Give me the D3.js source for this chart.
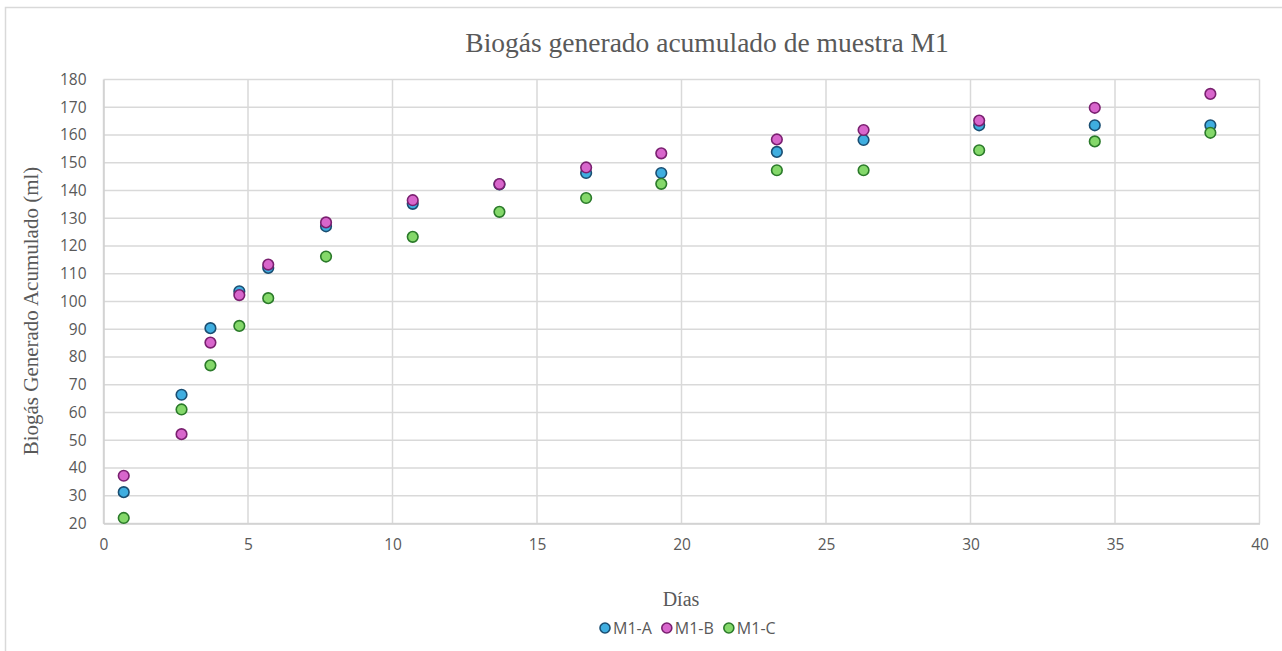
<!DOCTYPE html>
<html>
<head>
<meta charset="utf-8">
<script src="https://cdn.jsdelivr.net/npm/d3@7"></script>
<style>
  html, body { margin: 0; padding: 0; background: #ffffff; }
  svg { display: block; }
</style>
</head>
<body>
<svg id="chart" width="1282" height="651"></svg>
<script>
// Days of sampling
const dias = [0.7, 2.7, 3.7, 4.7, 5.7, 7.7, 10.7, 13.7, 16.7, 19.3, 23.3, 26.3, 30.3, 34.3, 38.3];

// Accumulated biogas (ml) for each replicate
const m1A = [31.3, 66.4, 90.4, 103.7, 112.1, 127.1, 135.2, 142.2, 146.3, 146.3, 153.9, 158.2, 163.5, 163.5, 163.5];
const m1B = [37.2, 52.2, 85.2, 102.3, 113.3, 128.5, 136.5, 142.3, 148.3, 153.4, 158.4, 161.8, 165.2, 169.8, 174.8];
const m1C = [22.0, 61.1, 77.0, 91.2, 101.2, 116.2, 123.3, 132.3, 137.3, 142.4, 147.3, 147.3, 154.5, 157.7, 160.8];

const seriesNames = ["M1-A", "M1-B", "M1-C"];
const xTicks = [0, 5, 10, 15, 20, 25, 30, 35, 40];
const yTicks = [20, 30, 40, 50, 60, 70, 80, 90, 100, 110, 120, 130, 140, 150, 160, 170, 180];

const titleText = "Biogás generado acumulado de muestra M1";
const xTitle = "Días";
const yTitle = "Biogás Generado Acumulado (ml)";

const styles = {
  "M1-A": { fill: "#3FAEE0", stroke: "#1A4E72" },
  "M1-B": { fill: "#D866CC", stroke: "#7A2070" },
  "M1-C": { fill: "#84D86A", stroke: "#2B7A2A" }
};

const series = [
  { name: seriesNames[0], values: m1A },
  { name: seriesNames[1], values: m1B },
  { name: seriesNames[2], values: m1C }
];

const svg = d3.select("#chart");
const plot = { left: 103.5, right: 1259.5, top: 79.5, bottom: 523.5 };
const sans = "'Open Sans', 'Noto Sans', sans-serif";
const serif = "'Liberation Serif', 'DejaVu Serif', serif";
const textGray = "#595959";

// Outer chart frame
svg.append("rect")
  .attr("x", 5.5).attr("y", 7.5)
  .attr("width", 1290).attr("height", 660)
  .attr("fill", "#ffffff")
  .attr("stroke", "#D9D9D9")
  .attr("stroke-width", 1.5);

const x = d3.scaleLinear().domain([0, 40]).range([plot.left, plot.right]);
const y = d3.scaleLinear().domain([20, 180]).range([plot.bottom, plot.top]);

// Gridlines
const grid = svg.append("g");
grid.selectAll("line.h").data(yTicks).join("line")
  .attr("class", "h")
  .attr("x1", plot.left).attr("x2", plot.right)
  .attr("y1", d => y(d)).attr("y2", d => y(d))
  .attr("stroke", "#D9D9D9").attr("stroke-width", 1.5);
grid.selectAll("line.v").data(xTicks).join("line")
  .attr("class", "v")
  .attr("y1", plot.top).attr("y2", plot.bottom)
  .attr("x1", d => x(d)).attr("x2", d => x(d))
  .attr("stroke", "#D9D9D9").attr("stroke-width", 1.5);

// Axes
const yAxis = d3.axisLeft(y).tickValues(yTicks).tickSize(0).tickPadding(17);
const xAxis = d3.axisBottom(x).tickValues(xTicks).tickSize(0).tickPadding(15);

const gy = svg.append("g").attr("transform", `translate(${plot.left},0)`).call(yAxis);
const gx = svg.append("g").attr("transform", `translate(0,${plot.bottom})`).call(xAxis);
[gx, gy].forEach(g => {
  g.select(".domain").attr("stroke", "#D0D0D0").attr("stroke-width", 1.5);
  g.selectAll("text").attr("fill", textGray).style("font-family", sans).style("font-size", "15.5px");
});

// Points
series.forEach(s => {
  svg.append("g").selectAll("circle").data(s.values).join("circle")
    .attr("cx", (d, i) => x(dias[i]))
    .attr("cy", d => y(d))
    .attr("r", 5.3)
    .attr("fill", styles[s.name].fill)
    .attr("stroke", styles[s.name].stroke)
    .attr("stroke-width", 1.6);
});

// Title
svg.append("text")
  .attr("x", 707).attr("y", 52)
  .attr("text-anchor", "middle")
  .attr("fill", textGray)
  .style("font-family", serif)
  .style("font-size", "27.5px")
  .text(titleText);

// Axis titles
svg.append("text")
  .attr("x", 681).attr("y", 606)
  .attr("text-anchor", "middle")
  .attr("fill", textGray)
  .style("font-family", serif)
  .style("font-size", "20px")
  .text(xTitle);

svg.append("text")
  .attr("transform", `translate(38,311) rotate(-90)`)
  .attr("text-anchor", "middle")
  .attr("fill", textGray)
  .style("font-family", serif)
  .style("font-size", "21px")
  .text(yTitle);

// Legend
const legend = svg.append("g").attr("transform", "translate(600,628)");
let lx = 0;
seriesNames.forEach(name => {
  const item = legend.append("g").attr("transform", `translate(${lx},0)`);
  item.append("circle").attr("cx", 5).attr("cy", 0).attr("r", 5)
    .attr("fill", styles[name].fill).attr("stroke", styles[name].stroke).attr("stroke-width", 1.6);
  const t = item.append("text").attr("x", 13).attr("y", 5.5)
    .attr("fill", textGray)
    .style("font-family", sans).style("font-size", "16px")
    .text(name);
  lx += 13 + t.node().getComputedTextLength() + 10;
});
</script>
</body>
</html>
